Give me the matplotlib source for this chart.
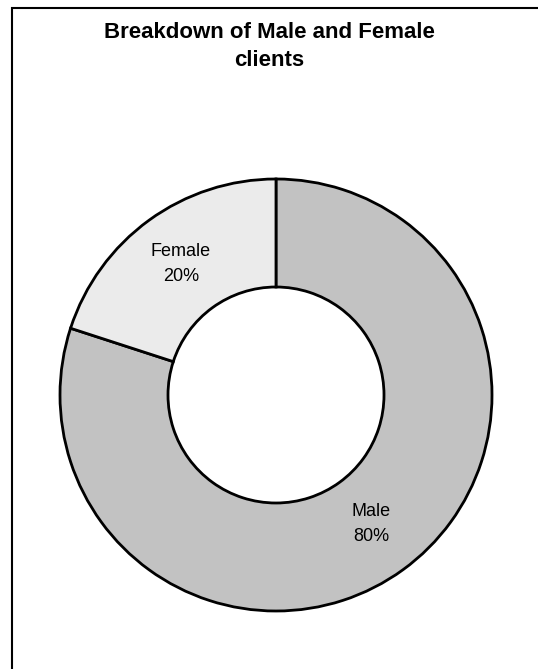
import matplotlib.pyplot as plt
from matplotlib.patches import Rectangle

# Data
labels = ['Male', 'Female']
shares = [80, 20]
colors = ['#c2c2c2', '#ebebeb']

plt.rcParams['font.family'] = ['Liberation Sans', 'DejaVu Sans']

fig = plt.figure(figsize=(5.38, 6.69), dpi=100)

# chart border (cropped at the right and bottom like the original)
fig.patches.append(Rectangle((12 / 538, -0.01), 1.0, 1 - 8 / 669 + 0.01,
                             transform=fig.transFigure, fill=False,
                             edgecolor='black', linewidth=1.5))

fig.text(0.5, 1 - 33 / 669, 'Breakdown of Male and Female', ha='center', va='center',
         fontsize=16, fontweight='bold')
fig.text(0.5, 1 - 61 / 669, 'clients', ha='center', va='center',
         fontsize=16, fontweight='bold')

# donut axes: centre ~ (276, 395), outer radius ~ 216 px
cx, cy, r = 276, 395, 216
ax = fig.add_axes([(cx - r) / 538, 1 - (cy + r) / 669, 2 * r / 538, 2 * r / 669])

wedges, _ = ax.pie(shares, colors=colors, startangle=90, counterclock=False,
                   radius=1.0,
                   wedgeprops=dict(width=0.5, edgecolor='black', linewidth=2))

ax.set_xlim(-1, 1)
ax.set_ylim(-1, 1)
ax.set_aspect('equal')
ax.axis('off')

# labels
for name, pct, (lx, ly) in zip(labels, shares, [(371, 524), (181, 264)]):
    ax.text((lx - cx) / r, (cy - ly) / r, f'{name}\n{pct}%', ha='center', va='center',
            fontsize=13, linespacing=1.65)

fig.savefig('out.png', dpi=100)
